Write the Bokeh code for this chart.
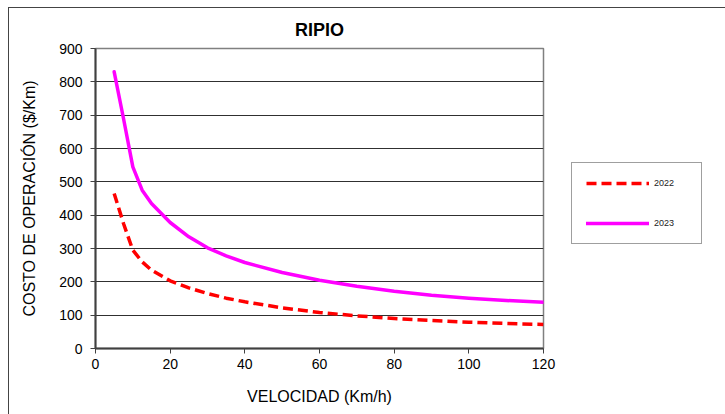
from bokeh.plotting import figure
from bokeh.models import FixedTicker, Legend, LegendItem, Range1d
from bokeh.embed import file_html
from bokeh.resources import INLINE

# ---- data ----
velocidad = [5, 7.5, 10, 12.5, 15, 20, 25, 30, 35, 40, 50, 60, 70, 80, 90, 100, 110, 120]
costo_2022 = [465, 375, 295, 260, 235, 203, 182, 165, 151, 140, 122, 108, 98, 90, 84, 79, 75, 72]
costo_2023 = [830, 690, 545, 475, 435, 378, 335, 302, 278, 258, 228, 205, 187, 172, 160, 151, 144, 139]
x_ticks = [0, 20, 40, 60, 80, 100, 120]
y_ticks = [0, 100, 200, 300, 400, 500, 600, 700, 800, 900]
series_names = ["2022", "2023"]

FONT = "Liberation Sans"

p = figure(frame_width=448, frame_height=300, output_backend="svg", toolbar_location=None,
           x_range=Range1d(0, 120), y_range=Range1d(0, 900),
           min_border_left=86, min_border_right=182, min_border_top=40, min_border_bottom=66,
           title="RIPIO")
p.margin = (7, 0, 0, 8)
p.styles = {"border-left": "1px solid #444444", "border-top": "1px solid #444444"}

p.title.align = "center"
p.title.vertical_align = "top"
p.title.text_font = FONT
p.title.text_font_size = "18px"
p.title.text_font_style = "bold"
p.title.text_color = "black"
p.title.standoff = 14

r22 = p.line(velocidad, costo_2022, line_color="#FF0000", line_width=3.5,
             line_dash="10 5", line_join="round")
r23 = p.line(velocidad, costo_2023, line_color="#FF00FF", line_width=3.5,
             line_join="round", line_cap="round")

p.xaxis.ticker = FixedTicker(ticks=x_ticks)
p.yaxis.ticker = FixedTicker(ticks=y_ticks)
p.xaxis.axis_label = "VELOCIDAD (Km/h)"
p.yaxis.axis_label = "COSTO DE OPERACIÓN ($/Km)"

for ax in (p.xaxis[0], p.yaxis[0]):
    ax.axis_line_color = "#404040"
    ax.axis_line_width = 2
    ax.major_tick_line_color = "#404040"
    ax.major_tick_line_width = 1
    ax.major_tick_in = 0
    ax.major_tick_out = 5
    ax.minor_tick_line_color = None
    ax.major_label_text_font = FONT
    ax.major_label_text_font_size = "14px"
    ax.major_label_text_color = "black"
    ax.axis_label_text_font = FONT
    ax.axis_label_text_font_size = "16px"
    ax.axis_label_text_font_style = "normal"
    ax.axis_label_text_color = "black"

p.xaxis.major_label_standoff = 5
p.xaxis.axis_label_standoff = 16
p.yaxis.major_label_standoff = 8
p.yaxis.axis_label_standoff = 18

p.xgrid.grid_line_color = None
p.ygrid.grid_line_color = "#303030"
p.ygrid.grid_line_width = 1

p.outline_line_color = "#808080"
p.outline_line_width = 1.5
p.background_fill_color = "white"
p.border_fill_color = "white"

legend = Legend(items=[LegendItem(label=series_names[0], renderers=[r22]),
                       LegendItem(label=series_names[1], renderers=[r23])],
                location=(28, 104), orientation="vertical",
                padding=14, spacing=28, margin=0,
                glyph_width=63, glyph_height=12, label_height=12, label_width=33,
                label_standoff=5,
                label_text_font=FONT, label_text_font_size="9px", label_text_color="#222222",
                border_line_color="#404040", border_line_width=1,
                background_fill_color="white", background_fill_alpha=1.0)
p.add_layout(legend, "right")

open("out.html", "w").write(file_html(p, INLINE))
